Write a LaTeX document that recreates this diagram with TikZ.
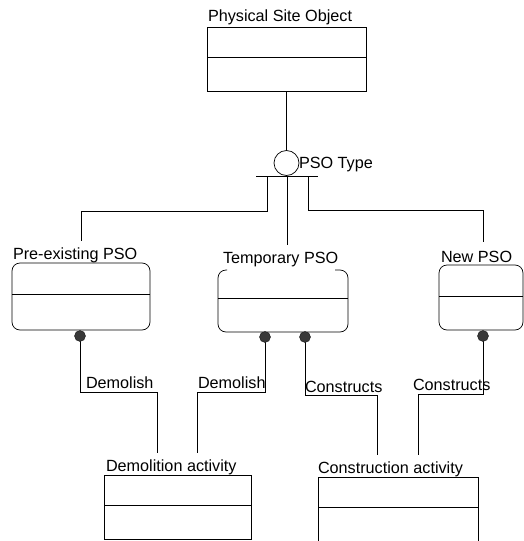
\documentclass[tikz,border=0pt]{standalone}
\usepackage{fontspec}
\setmainfont{Liberation Sans}
\begin{document}
\begin{tikzpicture}[x=1pt,y=-1pt,
  line width=0.7pt,
  box/.style={draw, rectangle, inner sep=0pt, outer sep=0pt},
  rbox/.style={box, rounded corners=8pt},
  blank/.style={rectangle, inner sep=0pt, outer sep=0pt},
  lbl/.style={anchor=base west, inner sep=0pt, outer sep=0pt, font=\fontsize{16.2}{18}\selectfont},
  dot/.style={circle, fill=black!78, draw=black!90, line width=0.4pt, minimum size=11pt, inner sep=0pt},
  link/.style={draw, line width=0.7pt}]
\useasboundingbox[fill=white] (0,0) rectangle (524,541);

% supertype
\node[box, minimum width=159pt, minimum height=64pt] (pso) at (286.5,59) {};
\draw ([yshift=-30pt]pso.north west) -- ([yshift=-30pt]pso.north east);
\node[lbl] (psoL) at (208,21.5) {Physical Site Object};

% subtype selector
\node[circle, draw, minimum size=25pt, inner sep=0pt] (sel) at (286.5,163) {};
\node[lbl] (selL) at (299,168) {PSO Type};
\draw[link] (pso.south) -- (sel.north);
\draw ([xshift=-30.5pt]sel.south) -- ([xshift=31.5pt]sel.south);
\coordinate (bl) at (267,176);
\coordinate (bm) at (287,176);
\coordinate (br) at (308,176);

% subtypes
\node[rbox, minimum width=138pt, minimum height=67pt] (pre) at (81,296.5) {};
\draw ([yshift=-31pt]pre.north west) -- ([yshift=-31pt]pre.north east);
\node[lbl] (preL) at (13,259) {Pre-existing PSO};

\node[blank, minimum width=130pt, minimum height=62pt] (tmp) at (283,301) {};
\draw[rounded corners=8pt] ([xshift=9pt]tmp.north west) -- (tmp.north west) -- (tmp.south west)
  -- (tmp.south east) -- (tmp.north east) -- ([xshift=-13pt]tmp.north east);
\draw ([yshift=-28pt]tmp.north west) -- ([yshift=-28pt]tmp.north east);
\node[lbl] (tmpL) at (223,263) {Temporary PSO};

\node[rbox, minimum width=84pt, minimum height=65pt] (new) at (481,297.5) {};
\draw ([yshift=-31pt]new.north west) -- ([yshift=-31pt]new.north east);
\node[lbl] (newL) at (441,262) {New PSO};

\coordinate (preIn) at (81,241);
\coordinate (tmpIn) at (287,245);
\coordinate (newIn) at (483,242);
\draw[link] (bl) -- ++(0,35) -| (preIn);
\draw[link] (bm) -- (tmpIn);
\draw[link] (br) -- ++(0,34) -| (newIn);

% activities
\node[box, minimum width=147pt, minimum height=64.5pt] (dem) at (177.5,507.25) {};
\draw ([yshift=-30pt]dem.north west) -- ([yshift=-30pt]dem.north east);
\node[lbl] (demL) at (106,471) {Demolition activity};

\node[blank, minimum width=160pt, minimum height=70pt] (con) at (398,512) {};
\draw (con.south west) -- (con.north west) -- (con.north east) -- (con.south east);
\draw ([yshift=-30pt]con.north west) -- ([yshift=-30pt]con.north east);
\node[lbl] (conL) at (318,473) {Construction activity};

\coordinate (demA) at (157,453);
\coordinate (demB) at (197,453);
\coordinate (conA) at (377,455);
\coordinate (conB) at (418,455);

% relationships
\draw[link] (80,336) -- ++(0,56) -| (demA);
\draw[link] (265,337) -- ++(0,55) -| (demB);
\draw[link] (305,337) -- ++(0,58) -| (conA);
\draw[link] (483,336) -- ++(0,58) -| (conB);
\node[dot] (d1) at (80,336) {};
\node[dot] (d2) at (265,337) {};
\node[dot] (d3) at (305,337) {};
\node[dot] (d4) at (483,336) {};

\node[lbl] (r1) at (86,388) {Demolish};
\node[lbl] (r2) at (198,388) {Demolish};
\node[lbl] (r3) at (305,392) {Constructs};
\node[lbl] (r4) at (413,390) {Constructs};
\end{tikzpicture}
\end{document}
